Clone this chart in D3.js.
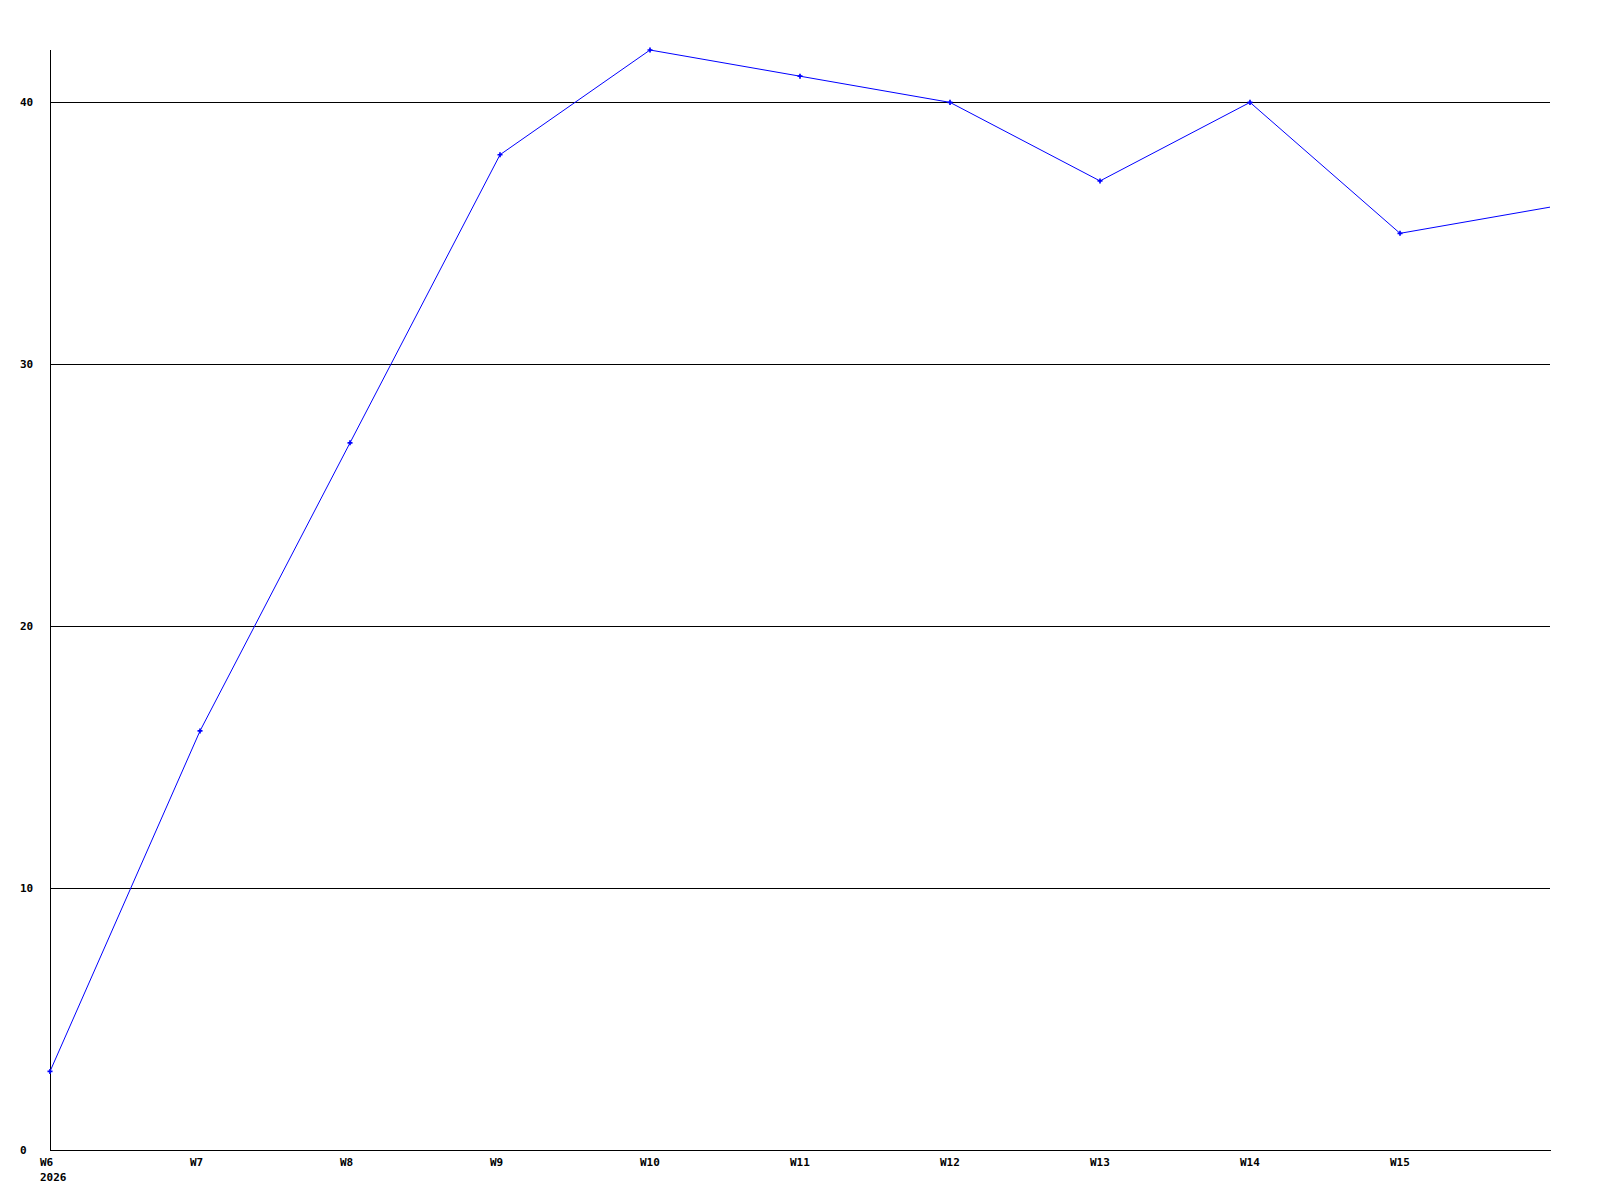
<!DOCTYPE html>
<html><head><meta charset="utf-8">
<script src="https://cdn.jsdelivr.net/npm/d3@7"></script>
<style>body{margin:0;background:#fff}svg{display:block}text{font-family:"DejaVu Sans Mono",monospace;font-weight:bold;font-size:11px;fill:#000}</style>
</head><body>
<script>
const weeks = ["W6","W7","W8","W9","W10","W11","W12","W13","W14","W15","W16"];
const values = [3,16,27,38,42,41,40,37,40,35,36];
const xTickLabels = ["W6","W7","W8","W9","W10","W11","W12","W13","W14","W15"];
const yTicks = [0,10,20,30,40];
const yearLabel = "2026";

const W=1600,H=1200;
const svg=d3.select("body").append("svg").attr("width",W).attr("height",H);
const x=d3.scalePoint().domain(weeks).range([50,1550]);
const y=d3.scaleLinear().domain([0,42]).range([1150,50]);

// gridlines
svg.append("g").selectAll("line").data(yTicks.filter(d=>d>0)).join("line")
  .attr("x1",50).attr("x2",1550).attr("y1",d=>Math.round(y(d))+0.5).attr("y2",d=>Math.round(y(d))+0.5)
  .attr("stroke","#000").attr("stroke-width",1);
// axes
svg.append("line").attr("x1",50.5).attr("x2",50.5).attr("y1",50).attr("y2",1150).attr("stroke","#000");
svg.append("line").attr("x1",50).attr("x2",1551).attr("y1",1150.5).attr("y2",1150.5).attr("stroke","#000");
// y labels
svg.append("g").selectAll("text").data(yTicks).join("text")
  .attr("x",20).attr("y",d=>y(d)).attr("dy","0.35em").text(d=>d);
// x labels
svg.append("g").selectAll("text").data(xTickLabels).join("text")
  .attr("x",d=>x(d)-10).attr("y",1166).text(d=>d);
svg.append("text").attr("x",x(weeks[0])-10).attr("y",1181).text(yearLabel);
// line
const data=weeks.map((w,i)=>({w,v:values[i]}));
svg.append("path").datum(data).attr("fill","none").attr("stroke","#0000ff").attr("stroke-width",1)
  .attr("d",d3.line().x(d=>x(d.w)).y(d=>y(d.v)));
svg.append("g").selectAll("path").data(data.slice(0,-1)).join("path")
  .attr("transform",d=>`translate(${x(d.w)},${y(d.v)})`)
  .attr("d",d3.symbol(d3.symbolCross,14)).attr("fill","#0000ff");
</script>
</body></html>
